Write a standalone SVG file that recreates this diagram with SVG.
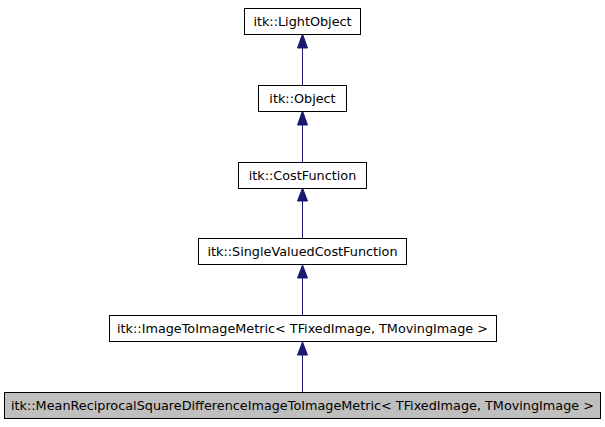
<svg xmlns="http://www.w3.org/2000/svg" width="605" height="427" viewBox="0 0 605 427">
<style>
rect{fill:#fff;stroke:#000;stroke-width:1}
text{font-family:"DejaVu Sans",sans-serif;font-size:12.8px;text-anchor:middle}
.e{stroke:#191970;stroke-width:1;fill:none}
.h{fill:#191970;stroke:#191970}
</style>
<rect width="605" height="427" style="stroke:none"/>
<g id="connectors">
<line class="e" x1="302.5" y1="392.5" x2="302.5" y2="355"/><polygon class="h" points="302.5,342 297.5,355 307.5,355"/>
<line class="e" x1="302.5" y1="315.5" x2="302.5" y2="278"/><polygon class="h" points="302.5,265 297.5,278 307.5,278"/>
<line class="e" x1="302.5" y1="238.5" x2="302.5" y2="201"/><polygon class="h" points="302.5,188 297.5,201 307.5,201"/>
<line class="e" x1="302.5" y1="162.5" x2="302.5" y2="125"/><polygon class="h" points="302.5,111 297.5,125 307.5,125"/>
<line class="e" x1="302.5" y1="85.5" x2="302.5" y2="48"/><polygon class="h" points="302.5,34 297.5,48 307.5,48"/>
</g>
<g id="n1"><rect x="244.5" y="8.5" width="116" height="26"/><text x="302.5" y="26">itk::LightObject</text></g>
<g id="n2"><rect x="258.5" y="85.5" width="88" height="26"/><text x="302.5" y="103">itk::Object</text></g>
<g id="n3"><rect x="238.5" y="162.5" width="128" height="26"/><text x="302.5" y="180">itk::CostFunction</text></g>
<g id="n4"><rect x="198.5" y="238.5" width="208" height="26"/><text x="302.5" y="256">itk::SingleValuedCostFunction</text></g>
<g id="n5"><rect x="109.5" y="315.5" width="387" height="26"/><text x="302.5" y="333">itk::ImageToImageMetric&lt; TFixedImage, TMovingImage &gt;</text></g>
<g id="n6"><rect x="4.5" y="392.5" width="596" height="26" style="fill:#bfbfbf"/><text x="302.5" y="410">itk::MeanReciprocalSquareDifferenceImageToImageMetric&lt; TFixedImage, TMovingImage &gt;</text></g>
</svg>
